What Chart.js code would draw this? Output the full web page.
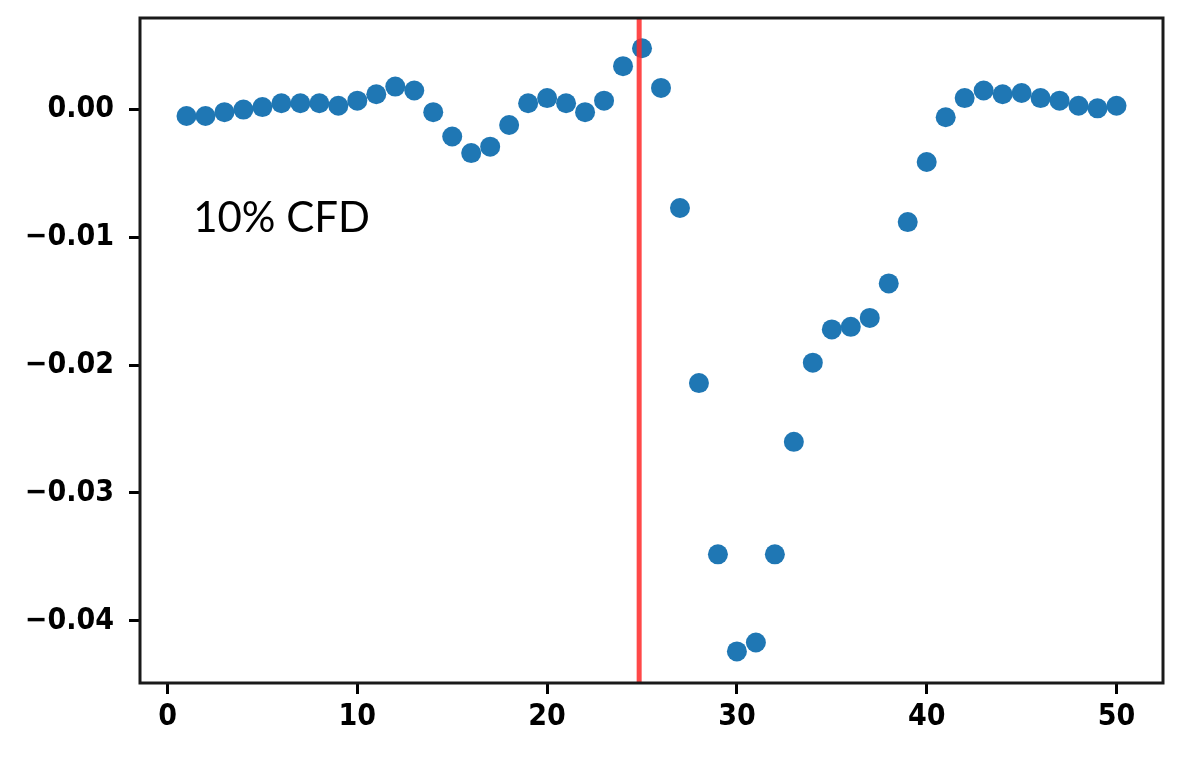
<!DOCTYPE html>
<html>
<head>
<meta charset="utf-8">
<script src="https://cdn.jsdelivr.net/npm/chart.js@4/dist/chart.umd.min.js"></script>
<style>
  html, body { margin: 0; padding: 0; background: #fff; }
</style>
</head>
<body>
<canvas id="cfdChart" width="1178" height="757"></canvas>
<script>
// index of each sample
const sampleIdx = [];
for (let i = 1; i <= 50; i++) sampleIdx.push(i);

// values
const cfdValues = [
  -0.0005, -0.0005, -0.0002, 0.0000, 0.0002, 0.0005, 0.0005, 0.0005, 0.0003, 0.0007,
   0.0012,  0.0018,  0.0015, -0.0002, -0.0021, -0.0034, -0.0029, -0.0012, 0.0005, 0.0009,
   0.0005, -0.0002,  0.0007,  0.0034,  0.0048,  0.0017, -0.0077, -0.0214, -0.0348, -0.0424,
  -0.0417, -0.0348, -0.0260, -0.0198, -0.0172, -0.0170, -0.0163, -0.0136, -0.0088, -0.0041,
  -0.0006,  0.0009,  0.0015,  0.0012,  0.0013,  0.0009,  0.0007,  0.0003,  0.0001,  0.0003
];

const xTicks = [0, 10, 20, 30, 40, 50];
const yTicks = [0, -0.01, -0.02, -0.03, -0.04];
const markerX = 24.85;
const labelText = '10% CFD';

const points = sampleIdx.map((x, i) => ({ x: x, y: cfdValues[i] }));

// red marker, frame and annotation
const extras = {
  id: 'extras',
  afterDatasetsDraw(chart) {
    const ctx = chart.ctx;
    const a = chart.chartArea;
    const px = chart.scales.x.getPixelForValue(markerX);
    ctx.save();
    ctx.strokeStyle = 'rgba(255, 40, 40, 0.85)';
    ctx.lineWidth = 5;
    ctx.beginPath();
    ctx.moveTo(px, a.top);
    ctx.lineTo(px, a.bottom);
    ctx.stroke();

    ctx.strokeStyle = '#1a1a1a';
    ctx.lineWidth = 3;
    ctx.strokeRect(a.left, a.top, a.right - a.left, a.bottom - a.top);

    ctx.fillStyle = '#000';
    ctx.font = '42px Lato, "Open Sans", sans-serif';
    ctx.textBaseline = 'alphabetic';
    ctx.textAlign = 'left';
    ctx.fillText(labelText, chart.scales.x.getPixelForValue(1.35), chart.scales.y.getPixelForValue(-0.0096));
    ctx.restore();
  }
};

const tickFont = { family: '"DejaVu Sans Condensed", "DejaVu Sans", sans-serif', size: 30, weight: 'bold' };

new Chart('cfdChart', {
  type: 'scatter',
  data: {
    datasets: [{
      data: points,
      backgroundColor: '#1f77b4',
      borderWidth: 0,
      pointRadius: 10,
      pointHoverRadius: 10
    }]
  },
  options: {
    responsive: false,
    animation: false,
    devicePixelRatio: 1,
    layout: { padding: { top: 18, right: 15, left: 0, bottom: 0 } },
    plugins: { legend: { display: false }, tooltip: { enabled: false } },
    scales: {
      x: {
        type: 'linear',
        min: -1.45,
        max: 52.45,
        afterBuildTicks: s => { s.ticks = xTicks.map(v => ({ value: v })); },
        afterFit: s => { s.height = 74; s.paddingLeft = 0; s.paddingRight = 0; },
        border: { display: false },
        grid: { drawOnChartArea: false, drawTicks: true, tickLength: 11, color: '#000', lineWidth: 3 },
        ticks: { color: '#000', font: tickFont, padding: 5, maxRotation: 0 }
      },
      y: {
        type: 'linear',
        min: -0.04487,
        max: 0.00717,
        afterBuildTicks: s => { s.ticks = yTicks.map(v => ({ value: v })); },
        afterFit: s => { s.width = 140; s.paddingTop = 0; s.paddingBottom = 0; },
        border: { display: false },
        grid: { drawOnChartArea: false, drawTicks: true, tickLength: 11, color: '#000', lineWidth: 3 },
        ticks: {
          color: '#000', font: tickFont, padding: 15,
          callback: v => (v < 0 ? '\u2212' : '') + Math.abs(v).toFixed(2)
        }
      }
    }
  },
  plugins: [extras]
});
</script>
</body>
</html>
